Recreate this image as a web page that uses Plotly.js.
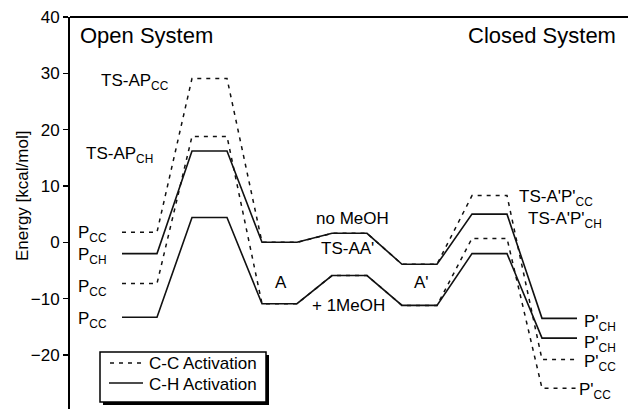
<!DOCTYPE html>
<html>
<head>
<meta charset="utf-8">
<script src="https://cdn.plot.ly/plotly-3.0.1.min.js"></script>
<style>html,body{margin:0;padding:0;background:#fff;}#chart{width:628px;height:409px;}</style>
</head>
<body>
<div id="chart"></div>
<script>
// Reaction coordinate stages (index = position along the reaction path)
const stages = ["P", "TS-AP", "A", "TS-AA'", "A'", "TS-A'P'", "P'"];
// Energies in kcal/mol
const ccNoMeOH = [1.8, 29.1, 0.0, 1.6, -3.9, 8.3, -20.8];      // C-C activation, no MeOH
const ccMeOH   = [-7.3, 18.8, -10.9, -5.9, -11.2, 0.7, -25.9];  // C-C activation, +1 MeOH
const chNoMeOH = [-2.0, 16.2, 0.0, 1.6, -3.9, 5.0, -13.5];      // C-H activation, no MeOH
const chMeOH   = [-13.3, 4.4, -10.9, -5.9, -11.2, -2.0, -17.0]; // C-H activation, +1 MeOH
const yTicks = [-30, -20, -10, 0, 10, 20, 30, 40];
const legendNames = ["C-C Activation", "C-H Activation"];

const HALF = 0.25; // half width of each energy level plateau
function path(vals) {
  const xs = [], ys = [];
  vals.forEach((v, i) => { xs.push(i - HALF, i + HALF); ys.push(v, v); });
  return {x: xs, y: ys};
}

const FONT = "Liberation Sans, Arial, Helvetica, sans-serif";
const dashed = {color: "#111", width: 1.5, dash: "4px,5px"};
const solid = {color: "#111", width: 1.6};

const traces = [
  Object.assign(path(ccNoMeOH), {type: "scatter", mode: "lines", line: dashed, name: legendNames[0], showlegend: false, hoverinfo: "skip"}),
  Object.assign(path(ccMeOH),   {type: "scatter", mode: "lines", line: dashed, name: legendNames[0], showlegend: false, hoverinfo: "skip"}),
  Object.assign(path(chNoMeOH), {type: "scatter", mode: "lines", line: solid, name: legendNames[1], showlegend: false, hoverinfo: "skip"}),
  Object.assign(path(chMeOH),   {type: "scatter", mode: "lines", line: solid, name: legendNames[1], showlegend: false, hoverinfo: "skip"})
];

// pixel helpers for text placement
const PXX0 = 139.5, PXW = 70;          // x pixel of stage 0 centre, pixels per stage
const PY40 = 17, PYU = 5.633;          // y pixel of 40 kcal/mol, pixels per unit
const px2x = p => (p - PXX0) / PXW;
const py2y = p => 40 - (p - PY40) / PYU;
const ppx = p => (p - 70) / 558;       // pixel -> paper x
const ppy = p => (409 - p) / 392;      // pixel -> paper y

function lab(text, px, py, anchor, size) {
  return {text: text, x: px2x(px), y: py2y(py), xref: "x", yref: "y",
          xanchor: anchor, yanchor: "middle", showarrow: false,
          font: {family: FONT, size: size || 17, color: "#000"}};
}
function plab(text, px, py, anchor) {
  return {text: text, x: ppx(px), y: ppy(py), xref: "paper", yref: "paper",
          xanchor: anchor, yanchor: "middle", showarrow: false,
          font: {family: FONT, size: 17, color: "#000"}};
}

const annotations = [
  lab("Open System", 78, 35, "left", 22),
  lab("Closed System", 618, 35, "right", 22),
  lab("TS-AP<sub>CC</sub>", 99, 82, "left"),
  lab("TS-AP<sub>CH</sub>", 84, 155, "left"),
  lab("P<sub>CC</sub>", 76, 234, "left"),
  lab("P<sub>CH</sub>", 76, 256, "left"),
  lab("P<sub>CC</sub>", 76, 288, "left"),
  lab("P<sub>CC</sub>", 76, 320, "left"),
  lab("no MeOH", 352, 218, "center"),
  lab("TS-AA'", 347, 248, "center"),
  lab("A", 281, 282, "center"),
  lab("A'", 421, 282, "center"),
  lab("+ 1MeOH", 348, 305, "center"),
  lab("TS-A'P'<sub>CC</sub>", 517, 198, "left"),
  lab("TS-A'P'<sub>CH</sub>", 526, 220, "left"),
  lab("P'<sub>CH</sub>", 582, 323, "left"),
  lab("P'<sub>CH</sub>", 582, 344, "left"),
  lab("P'<sub>CC</sub>", 582, 363, "left"),
  lab("P'<sub>CC</sub>", 577, 391, "left"),
  {text: "Energy [kcal/mol]", textangle: -90, x: ppx(22), y: ppy(196),
   xref: "paper", yref: "paper", xanchor: "center", yanchor: "middle", showarrow: false,
   font: {family: FONT, size: 17, color: "#000"}},
  {text: String(yTicks[0]), x: ppx(60), y: 0, yshift: -2, xref: "paper", yref: "paper",
   xanchor: "right", yanchor: "top", showarrow: false, font: {family: FONT, size: 17, color: "#000"}},
  // legend texts
  plab(legendNames[0], 147, 363, "left"),
  plab(legendNames[1], 147, 384, "left")
];

const layout = {
  width: 628, height: 409,
  margin: {l: 70, r: 0, t: 17, b: 0, pad: 0},
  paper_bgcolor: "#fff", plot_bgcolor: "#fff",
  font: {family: FONT, size: 17, color: "#000"},
  showlegend: false,
  xaxis: {range: [px2x(70), px2x(628)], visible: false, fixedrange: true},
  yaxis: {range: [py2y(409), 40], tickvals: yTicks, ticks: "outside", ticklen: 5, tickwidth: 1.5,
          tickcolor: "#000", showline: true, linewidth: 2, linecolor: "#000", showgrid: false,
          zeroline: false, tickfont: {family: FONT, size: 17, color: "#000"}, fixedrange: true},
  shapes: [
    // top frame line
    {type: "line", xref: "paper", yref: "paper", x0: 0, x1: 1, y0: 1, y1: 1, line: {color: "#000", width: 2}},
    // legend box with drop shadow
    {type: "rect", xref: "paper", yref: "paper", x0: ppx(103), x1: ppx(269), y0: ppy(355), y1: ppy(405),
     fillcolor: "#000", line: {width: 0}, layer: "above"},
    {type: "rect", xref: "paper", yref: "paper", x0: ppx(100), x1: ppx(266), y0: ppy(352), y1: ppy(402),
     fillcolor: "#fff", line: {color: "#000", width: 1.5}, layer: "above"},
    // legend line samples
    {type: "line", xref: "paper", yref: "paper", x0: ppx(110), x1: ppx(141), y0: ppy(363), y1: ppy(363),
     line: {color: "#111", width: 1.5, dash: "4px,5px"}, layer: "above"},
    {type: "line", xref: "paper", yref: "paper", x0: ppx(109), x1: ppx(143), y0: ppy(383), y1: ppy(383),
     line: {color: "#111", width: 1.6}, layer: "above"}
  ],
  annotations: annotations
};

Plotly.newPlot("chart", traces, layout, {displayModeBar: false, staticPlot: true});
</script>
</body>
</html>
